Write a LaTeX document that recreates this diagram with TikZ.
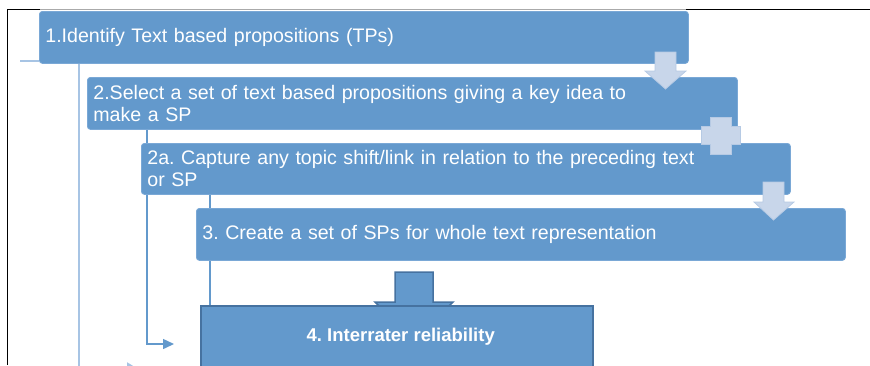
\documentclass[tikz,border=0pt]{standalone}
\usepackage{fontspec}
\setmainfont{Liberation Sans}
\usetikzlibrary{arrows.meta,calc,backgrounds}
\definecolor{boxblue}{RGB}{99,153,204}
\definecolor{boxedge}{RGB}{122,168,214}
\definecolor{lightline}{RGB}{167,196,228}
\definecolor{arrowfill}{RGB}{200,214,234}
\definecolor{arrowdraw}{RGB}{182,202,228}
\definecolor{darkedge}{RGB}{70,114,160}
\definecolor{framegray}{RGB}{170,170,170}
\frenchspacing
\begin{document}
\begin{tikzpicture}[x=1pt,y=-1pt,
  stepbox/.style={fill=boxblue, draw=boxedge, line width=0.8pt, rounded corners=3pt,
    text=white, align=left, anchor=north west, inner xsep=6pt, inner ysep=0pt,
    font=\fontsize{19.6}{22}\selectfont, text width=#1},
  downarrow/.style={fill=arrowfill, draw=arrowdraw, line width=0.8pt},
  bigarrow/.style={fill=boxblue, draw=darkedge, line width=1.5pt},
  lightconn/.style={draw=lightline, line width=2pt},
  midconn/.style={draw=boxblue, line width=1.5pt},
  frameline/.style={line width=1pt},
]
\useasboundingbox (0,0) rectangle (870,365);
\clip (0,0) rectangle (870,365);

% frame
\draw[frameline, black] (7,365) -- (7,9.5) -- (40,9.5);
\draw[frameline, framegray] (40,9.5) -- (686,9.5);
\draw[frameline, black] (686,9.5) -- (870,9.5);

% coordinates for connector ends
\coordinate (inleft) at (20,61);
\coordinate (l1bend) at (79,367);
\coordinate (l1end) at (135,367);
\coordinate (l2bend) at (147,344);
\coordinate (l2end) at (174,344);
\coordinate (v3) at (210,0);

% boxes
\node[stepbox=637pt, minimum height=52pt] (b1) at (39,11) {1.Identify Text based propositions (TPs)};
\node[stepbox=638pt, minimum height=52pt] (b2) at (87,77) {2.Select a set of text based propositions giving a key idea to\\make a SP};
\node[stepbox=637pt, minimum height=51pt] (b2a) at (141,143) {2a. Capture any topic shift/link in relation to the preceding text\\or SP};
\node[stepbox=637pt, minimum height=52pt] (b3) at (196,208) {3. Create a set of SPs for whole text representation};

% transition arrows
\draw[downarrow] (655,52) -- (676,52) -- (676,71) -- (686,71) -- (665.5,89) -- (645,71) -- (655,71) -- cycle;
\draw[downarrow] (710,117) -- (731,117) -- (731,126) -- (740,126) -- (740,144) -- (731,144)
  -- (731,154) -- (710,154) -- (710,144) -- (701,144) -- (701,126) -- (710,126) -- cycle;
\draw[downarrow] (763,182) -- (784,182) -- (784,202) -- (794,202) -- (773.5,220) -- (754,202) -- (763,202) -- cycle;
\draw[bigarrow] (395,272) -- (433,272) -- (433,302) -- (453,302) -- (414,340) -- (375,302) -- (395,302) -- cycle;

% final box
\node[anchor=north west, minimum width=392pt, minimum height=62pt, inner sep=0pt,
  fill=boxblue, draw=darkedge, line width=1.5pt, text=white,
  font=\fontsize{18.5}{22}\selectfont\bfseries] (b4) at (200,305) {\hspace*{8pt}4. Interrater reliability};

% connectors behind boxes
\begin{pgfonlayer}{background}
\draw[lightconn] (inleft) -- (inleft -| b1.west);
\draw[lightconn, -{Triangle[length=8pt,width=9pt]}] (b1.south -| l1bend) -- (l1bend) -- (l1end);
\draw[midconn, -{Triangle[length=11pt,width=10pt]}] (b2.south -| l2bend) -- (l2bend) -- (l2end);
\draw[midconn] (b2a.south -| v3) -- (b4.north -| v3);
\end{pgfonlayer}

\end{tikzpicture}
\end{document}
